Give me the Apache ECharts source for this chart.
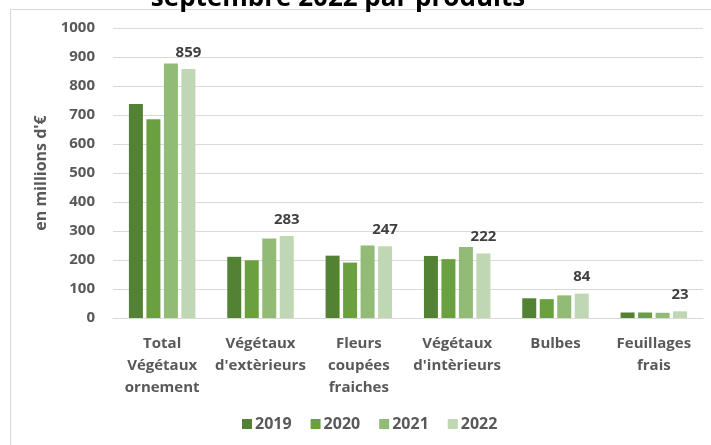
<!DOCTYPE html>
<html>
<head>
<meta charset="utf-8">
<script src="https://cdn.jsdelivr.net/npm/echarts@6/dist/echarts.min.js"></script>
<style>html,body{margin:0;padding:0;background:#fff}#c{width:711px;height:445px}</style>
</head>
<body>
<div id="c"></div>
<script>
const categories = ["Total\nVégétaux\nornement", "Végétaux\nd'extèrieurs", "Fleurs\ncoupées\nfraiches", "Végétaux\nd'intèrieurs", "Bulbes", "Feuillages\nfrais"];
const years = ["2019", "2020", "2021", "2022"];
const v2019 = [738, 211, 215, 214, 68, 19];
const v2020 = [685, 199, 191, 203, 65, 19];
const v2021 = [878, 274, 250, 245, 78, 18];
const v2022 = [859, 283, 247, 222, 84, 23];
const yTicks = [0, 100, 200, 300, 400, 500, 600, 700, 800, 900, 1000];
const titleText = "septembre 2022 par produits";
const yName = "en millions d'€";

const colors = ["#548235", "#6AA040", "#92BB76", "#BFD7B2"];
const font = "'Open Sans', sans-serif";
const values = [v2019, v2020, v2021, v2022];

const chart = echarts.init(document.getElementById('c'), null, {renderer: 'canvas'});
chart.setOption({
  animation: false,
  graphic: [
    {type: 'rect', shape: {x: 10.5, y: 9.5, width: 720, height: 460}, style: {fill: 'none', stroke: '#d9d9d9', lineWidth: 1}, z: -10},
    {type: 'text', x: 338, y: 12, style: {text: titleText, font: "bold 26px " + font, fill: '#000', align: 'center', verticalAlign: 'bottom'}}
  ],
  legend: {
    bottom: 8, left: 237,
    itemWidth: 10, itemHeight: 10, itemGap: 19,
    icon: 'rect',
    textStyle: {fontFamily: font, fontWeight: 'bold', fontSize: 16, color: '#595959', padding: [0, 0, 0, -2]},
    data: years
  },
  grid: {left: 113, right: 8, top: 28, bottom: 127, containLabel: false},
  xAxis: {
    type: 'category', data: categories,
    axisLine: {lineStyle: {color: '#d9d9d9', width: 1}},
    axisTick: {show: false},
    axisLabel: {interval: 0, fontFamily: font, fontWeight: 'bold', fontSize: 15, color: '#595959', lineHeight: 22, margin: 15}
  },
  yAxis: {
    type: 'value', min: yTicks[0], max: yTicks[yTicks.length - 1], interval: 100,
    name: yName, nameLocation: 'middle', nameGap: 62, nameRotate: 90,
    nameTextStyle: {fontFamily: font, fontWeight: 'bold', fontSize: 16, color: '#595959'},
    axisLine: {show: false}, axisTick: {show: false},
    splitLine: {lineStyle: {color: '#d9d9d9', width: 1}},
    axisLabel: {fontFamily: font, fontWeight: 'bold', fontSize: 15, color: '#595959', margin: 18, formatter: v => String(v)}
  },
  series: years.map((y, i) => ({
    name: y, type: 'bar', data: values[i],
    barWidth: 14, barGap: '25%',
    itemStyle: {color: colors[i]},
    label: i === 3 ? {show: true, position: 'top', distance: 9, fontFamily: font, fontWeight: 'bold', fontSize: 15, color: '#404040'} : {show: false}
  }))
});
</script>
</body>
</html>
